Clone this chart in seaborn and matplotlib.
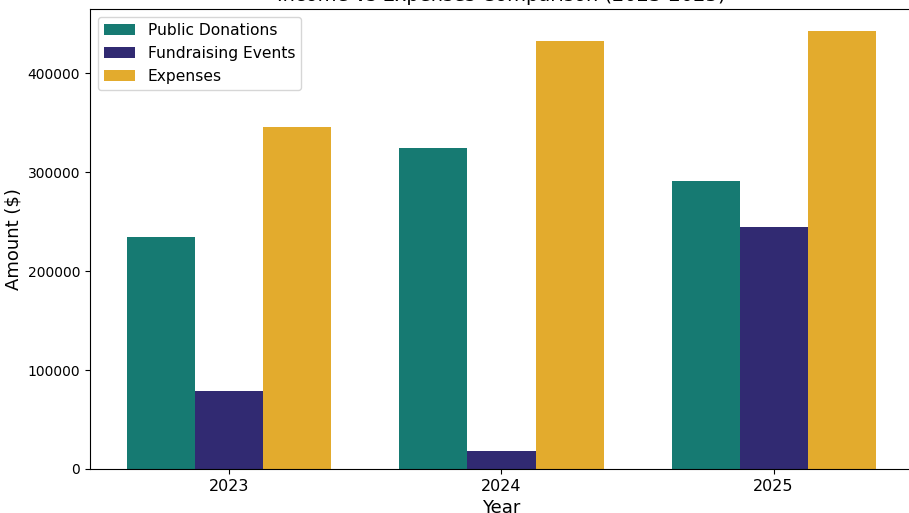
import pandas as pd
import matplotlib
matplotlib.use("Agg")
import matplotlib.pyplot as plt
import seaborn as sns

# --- Data ---
years = ["2023", "2024", "2025"]
public_donations = [235000, 325000, 291000]
fundraising_events = [79000, 18000, 245000]
expenses = [346000, 433000, 443000]

series = ["Public Donations", "Fundraising Events", "Expenses"]
colors = ["#167a72", "#312a72", "#e3ab2d"]

df = pd.DataFrame({
    "Year": years * 3,
    "Category": [series[0]] * 3 + [series[1]] * 3 + [series[2]] * 3,
    "Amount": public_donations + fundraising_events + expenses,
})

# --- Plot ---
fig = plt.figure(figsize=(9.09, 5.13), dpi=100)
ax = fig.add_axes([0.099, 0.0858, 0.9054, 0.8967])

sns.barplot(data=df, x="Year", y="Amount", hue="Category", order=years,
            hue_order=series, palette=colors, width=0.75, saturation=1,
            ax=ax)

ax.set_xlim(-0.5125, 2.5125)
ax.set_ylim(0, 465150)
ax.set_title("Income vs Expenses Comparison (2023-2025)", fontsize=14)
ax.set_xlabel("Year", fontsize=13)
ax.set_ylabel("Amount ($)", fontsize=13)
ax.tick_params(axis="x", labelsize=11.5)
ax.tick_params(axis="y", labelsize=10)
ax.ticklabel_format(axis="y", style="plain")
ax.legend(loc="upper left", fontsize=11.2, title=None)

fig.savefig("out.png", dpi=100)
